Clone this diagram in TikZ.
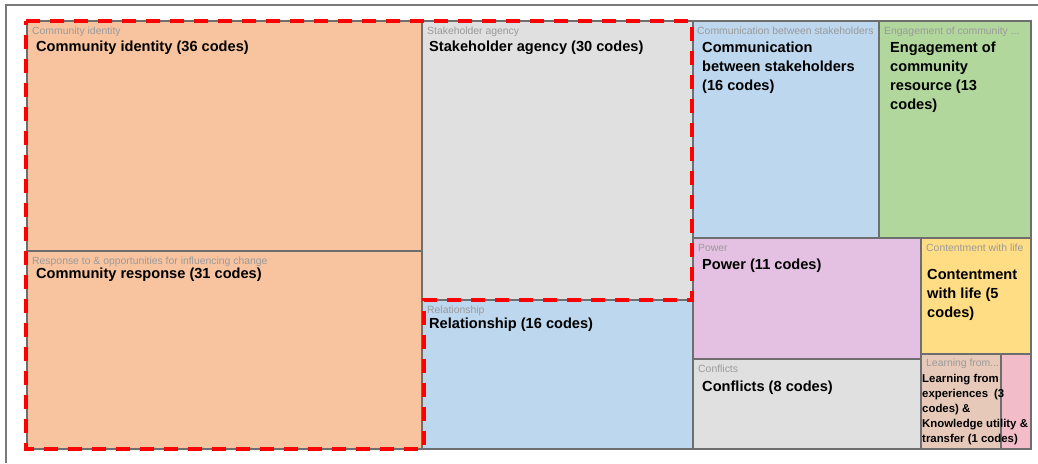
\documentclass[tikz,border=0pt]{standalone}
\usepackage{fontspec}
\setmainfont{Liberation Sans}
\definecolor{framegray}{HTML}{7A7A7A}
\definecolor{tilegray}{HTML}{6E6E6E}
\definecolor{capgray}{HTML}{9A9A9A}
\definecolor{peach}{HTML}{F8C4A0}
\definecolor{lightgray}{HTML}{E0E0E0}
\definecolor{lightblue}{HTML}{BDD7EE}
\definecolor{lightgreen}{HTML}{B1D79C}
\definecolor{lilac}{HTML}{E4C1E2}
\definecolor{lightyellow}{HTML}{FEDD84}
\definecolor{tan}{HTML}{E7C9B9}
\definecolor{rose}{HTML}{F2BDC9}
\tikzset{
  tile/.style={draw=tilegray, line width=1.4pt},
  tiletitle/.style={anchor=base west, inner sep=0pt, text=capgray,
    font=\fontsize{10.4}{12}\selectfont},
  tilecount/.style={anchor=base west, inner sep=0pt, align=left,
    font=\fontsize{14.6}{19}\selectfont\bfseries},
}
\begin{document}
\begin{tikzpicture}[x=1pt,y=-1pt]
      \useasboundingbox (0,0) rectangle (1038,463);
      \draw[framegray, line width=2pt] (6,463) -- (6,4.5) -- (1038,4.5);

      \draw[tile,fill=peach] (27,21) rectangle (422,251);
      \draw[tile,fill=peach] (27,251) rectangle (422,449);
      \draw[tile,fill=lightgray] (422,21) rectangle (693,300);
      \draw[tile,fill=lightblue] (422,300) rectangle (693,449);
      \draw[tile,fill=lightblue] (693,21) rectangle (879,238);
      \draw[tile,fill=lightgreen] (879,21) rectangle (1031,238);
      \draw[tile,fill=lilac] (693,238) rectangle (921,359);
      \draw[tile,fill=lightgray] (693,359) rectangle (921,449);
      \draw[tile,fill=lightyellow] (921,238) rectangle (1031,354);
      \draw[tile,fill=tan] (921,354) rectangle (1001,449);
      \draw[tile,fill=rose] (1001,354) rectangle (1031,449);

      \draw[red, line width=4.8pt, dash pattern=on 14pt off 10pt]
        (26,21) -- (692,21) -- (692,300) -- (424,300) -- (424,449) -- (26,449) -- cycle;

      \node[tiletitle] (t-identity) at (32,34) {Community identity};
      \node[tilecount] (c-identity) at (36,51) {Community identity (36 codes)};
      \node[tiletitle] (t-response) at (32,264) {Response to \& opportunities for influencing change};
      \node[tilecount] (c-response) at (36,278) {Community response (31 codes)};
      \node[tiletitle] (t-agency) at (427,34) {Stakeholder agency};
      \node[tilecount] (c-agency) at (429,51) {Stakeholder agency (30 codes)};
      \node[tiletitle] (t-relation) at (427,313) {Relationship};
      \node[tilecount] (c-relation) at (429,328) {Relationship (16 codes)};
      \node[tiletitle] (t-comm) at (697,34) {Communication between stakeholders};
      \node[tilecount] (c-comm) at (702,90) {Communication\\between stakeholders\\(16 codes)};
      \node[tiletitle] (t-engage) at (884,34) {Engagement of community ...};
      \node[tilecount] (c-engage) at (890,109) {Engagement of\\community\\resource (13\\codes)};
      \node[tiletitle] (t-power) at (698,251) {Power};
      \node[tilecount] (c-power) at (702,269) {Power (11 codes)};
      \node[tiletitle] (t-content) at (926,251) {Contentment with life};
      \node[tilecount] (c-content) at (927,317) {Contentment\\with life (5\\codes)};
      \node[tiletitle] (t-conflict) at (698,372) {Conflicts};
      \node[tilecount] (c-conflict) at (702,391) {Conflicts (8 codes)};
      \node[tiletitle] (t-learning) at (926,366) {Learning from...};
      \node[tilecount, font=\fontsize{11.4}{15}\selectfont\bfseries] (c-learning) at (922,442)
        {Learning from\\experiences\hspace{6pt}(3\\codes) \&\\Knowledge utility \&\\transfer (1 codes)};
    \end{tikzpicture}
\end{document}
